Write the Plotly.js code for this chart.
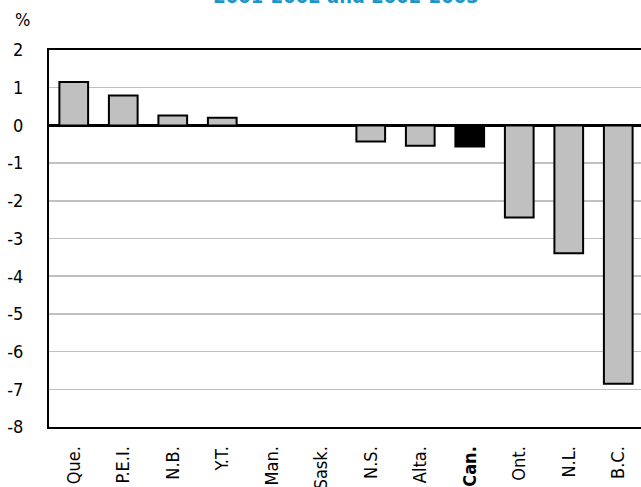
<!DOCTYPE html>
<html>
<head>
<meta charset="utf-8">
<script src="https://cdn.plot.ly/plotly-3.0.1.min.js"></script>
<style>
html,body{margin:0;padding:0;overflow:hidden;background:#fff;width:641px;height:487px;}
#chart{width:645px;height:487px;}
</style>
</head>
<body>
<div id="chart"></div>
<script>
var categories = ["Que.", "P.E.I.", "N.B.", "Y.T.", "Man.", "Sask.", "N.S.", "Alta.", "Can.", "Ont.", "N.L.", "B.C."];
var values = [1.15, 0.79, 0.26, 0.2, 0, 0, -0.43, -0.54, -0.56, -2.44, -3.39, -6.85];
var highlight = "Can.";
var yTicks = [2, 1, 0, -1, -2, -3, -4, -5, -6, -7, -8];
var titleText = "2001-2002 and 2002-2003";
var unitLabel = "%";

var FONT = "'DejaVu Sans Condensed', 'Liberation Sans Narrow', 'Arial Narrow', sans-serif";

var colors = categories.map(function(c){ return c === highlight ? "#000000" : "#c0c0c0"; });
var tickText = categories.map(function(c){ return c === highlight ? "<b>" + c + "</b>" : c; });

var trace = {
  type: "bar",
  x: categories,
  y: values,
  marker: {color: colors, line: {color: "#000000", width: 2}},
  hoverinfo: "x+y"
};

var layout = {
  width: 645,
  height: 487,
  margin: {l: 49, r: 2, t: 49.5, b: 59.5, pad: 0},
  paper_bgcolor: "#ffffff",
  plot_bgcolor: "#ffffff",
  showlegend: false,
  bargap: 0.42,
  font: {family: FONT, size: 18, color: "#000000"},
  title: {
    text: "<b>" + titleText + "</b>",
    font: {family: FONT, size: 20, color: "#1a96c8"},
    x: 0.5, xref: "paper", xanchor: "center",
    y: 1, yref: "container", yanchor: "top", pad: {t: -11}
  },
  xaxis: {
    type: "category",
    range: [-0.5, categories.length - 0.5],
    tickvals: categories,
    ticktext: tickText,
    tickangle: -90,
    ticks: "",
    ticklabelstandoff: 10,
    showline: true, linecolor: "#000000", linewidth: 2, mirror: true,
    showgrid: false,
    tickfont: {family: FONT, size: 18, color: "#000000"},
    fixedrange: true
  },
  yaxis: {
    range: [-8, 2],
    tickvals: yTicks,
    ticktext: yTicks.map(String),
    ticks: "",
    ticklabelstandoff: 20,
    showline: true, linecolor: "#000000", linewidth: 2, mirror: true,
    showgrid: true, gridcolor: "#c0c0c0", gridwidth: 1.5,
    zeroline: true, zerolinecolor: "#000000", zerolinewidth: 3,
    tickfont: {family: FONT, size: 18, color: "#000000"},
    fixedrange: true
  },
  annotations: [{
    text: unitLabel,
    xref: "paper", yref: "paper",
    x: -0.045, y: 1.08, xanchor: "center", yanchor: "middle",
    showarrow: false,
    font: {family: FONT, size: 18, color: "#000000"}
  }]
};

Plotly.newPlot("chart", [trace], layout, {displayModeBar: false, staticPlot: true});
</script>
</body>
</html>
